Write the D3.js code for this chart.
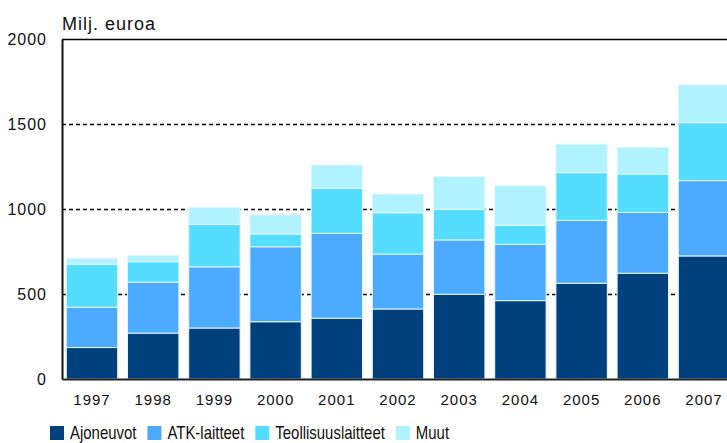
<!DOCTYPE html>
<html>
<head>
<meta charset="utf-8">
<script src="https://cdn.jsdelivr.net/npm/d3@7"></script>
<style>
  body { margin: 0; background: #fff; }
  svg { display: block; font-family: "Liberation Sans", Arial, sans-serif; }
</style>
</head>
<body>
<div id="chart"></div>
<script>
// years on the x axis
var years = ["1997", "1998", "1999", "2000", "2001", "2002", "2003", "2004", "2005", "2006", "2007"];
// series, million euro
var ajoneuvot = [185, 270, 300, 337, 357, 412, 498, 461, 563, 622, 724];
var atkLaitteet = [237, 300, 360, 441, 500, 323, 320, 331, 370, 358, 443];
var teollisuuslaitteet = [253, 120, 250, 75, 265, 243, 180, 112, 281, 226, 341];
var muut = [35, 37, 100, 113, 137, 110, 194, 233, 168, 157, 223];
var seriesNames = ["Ajoneuvot", "ATK-laitteet", "Teollisuuslaitteet", "Muut"];
var yTicks = [0, 500, 1000, 1500, 2000];

var colours = ["#00407d", "#4dabff", "#55ddff", "#b0f3ff"];

var width = 727, height = 443;
var margins = {left: 62, top: 39, right: -7, bottom: 64};

var svg = d3.select("#chart").append("svg")
    .attr("width", width)
    .attr("height", height);

var x = d3.scaleBand()
    .domain(years)
    .range([margins.left, width - margins.right])
    .paddingInner(0.16)
    .paddingOuter(0.07);

var y = d3.scaleLinear()
    .domain([0, 2000])
    .range([height - margins.bottom, margins.top]);

var table = years.map(function(yr, i) {
    return {
        year: yr,
        "Ajoneuvot": ajoneuvot[i],
        "ATK-laitteet": atkLaitteet[i],
        "Teollisuuslaitteet": teollisuuslaitteet[i],
        "Muut": muut[i]
    };
});
var stacked = d3.stack().keys(seriesNames)(table);

//dashed gridlines behind the bars
svg.append("g")
    .selectAll("line")
    .data(yTicks.filter(function(d) { return d > 0 && d < 2000; }))
    .enter().append("line")
    .attr("x1", margins.left)
    .attr("x2", width)
    .attr("y1", function(d) { return y(d) + 0.5; })
    .attr("y2", function(d) { return y(d) + 0.5; })
    .attr("stroke", "#000")
    .attr("stroke-width", 1.3)
    .attr("stroke-dasharray", "4,3");

// top frame line at 2000
svg.append("line")
    .attr("x1", margins.left)
    .attr("x2", width)
    .attr("y1", y(2000) + 0.5)
    .attr("y2", y(2000) + 0.5)
    .attr("stroke", "#000")
    .attr("stroke-width", 1.5);

var layers = svg.append("g").selectAll("g")
    .data(stacked)
    .enter().append("g")
    .attr("fill", function(d, i) { return colours[i]; });

layers.selectAll("rect")
    .data(function(d) { return d; })
    .enter().append("rect")
    .attr("x", function(d) { return x(d.data.year); })
    .attr("width", x.bandwidth())
    .attr("y", function(d) { return y(d[1]); })
    .attr("height", function(d) { return y(d[0]) - y(d[1]); })
    .attr("stroke", "#e6f6ff")
    .attr("stroke-width", 1);

// y axis
var yAxis = svg.append("g")
    .attr("transform", "translate(" + margins.left + ",0)")
    .call(d3.axisLeft(y).tickValues(yTicks).tickFormat(d3.format("d")).tickSize(0).tickPadding(15));
yAxis.select(".domain").attr("stroke", "#111").attr("stroke-width", 2);
yAxis.selectAll("text")
    .style("font-size", "16px")
    .style("letter-spacing", "1px")
    .style("font-family", "\"Liberation Sans\", Arial, sans-serif")
    .attr("fill", "#111");

// x axis
var xAxis = svg.append("g")
    .attr("transform", "translate(0," + y(0) + ")")
    .call(d3.axisBottom(x).tickSize(0).tickPadding(15));
xAxis.select(".domain").attr("stroke", "#222").attr("stroke-width", 2);
xAxis.selectAll("text")
    .style("font-size", "15px")
    .style("letter-spacing", "1px")
    .style("font-family", "\"Liberation Sans\", Arial, sans-serif")
    .attr("fill", "#111");

// unit label
svg.append("text")
    .attr("x", margins.left)
    .attr("y", 30)
    .style("font-size", "18px")
    .style("letter-spacing", "1px")
    .attr("fill", "#111")
    .text("Milj. euroa");

// legend, text squeezed horizontally like the original narrow font
var legend = svg.append("g").attr("transform", "translate(50,426)");
var lx = 0;
seriesNames.forEach(function(name, i) {
    legend.append("rect")
        .attr("x", lx)
        .attr("y", 0)
        .attr("width", 14)
        .attr("height", 14)
        .attr("fill", colours[i]);
    var t = legend.append("text")
        .attr("transform", "translate(" + (lx + 20) + ",13) scale(0.83,1)")
        .style("font-size", "18px")
        .attr("fill", "#111")
        .text(name);
    lx = lx + 20 + t.node().getComputedTextLength() * 0.83 + 11;
});
</script>
</body>
</html>
